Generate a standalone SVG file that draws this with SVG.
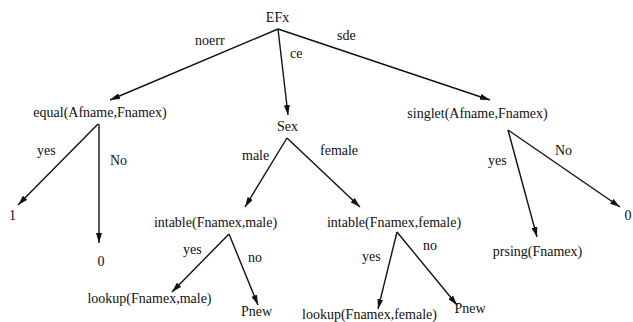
<svg xmlns="http://www.w3.org/2000/svg" width="633" height="322" viewBox="0 0 633 322" font-family="'Liberation Serif', 'Times New Roman', serif">
<defs>
<style>
text{font-family:"Liberation Serif","Times New Roman",serif;font-size:14px;fill:#111;}
.n{text-anchor:middle;}
.e line{stroke:#111;stroke-width:1.4;marker-end:url(#ah);}
</style>
<marker id="ah" markerUnits="userSpaceOnUse" viewBox="0 0 10 6" refX="10" refY="3" markerWidth="10" markerHeight="6" orient="auto">
<path d="M0,0 L10,3 L0,6 z" fill="#111"/>
</marker>
</defs>
<rect width="633" height="322" fill="#fff"/>
<g id="connectors" class="e">
<line x1="278" y1="29" x2="110" y2="100"/>
<line x1="278" y1="29" x2="288" y2="115"/>
<line x1="278" y1="29" x2="490" y2="100"/>
<line x1="98" y1="124" x2="18" y2="205"/>
<line x1="99" y1="124" x2="99" y2="243"/>
<line x1="287" y1="138" x2="245" y2="207"/>
<line x1="287" y1="138" x2="360" y2="207"/>
<line x1="229" y1="234" x2="172" y2="292"/>
<line x1="229" y1="234" x2="258" y2="305"/>
<line x1="397" y1="232" x2="378" y2="309"/>
<line x1="397" y1="232" x2="457" y2="305"/>
<line x1="508" y1="130" x2="537" y2="237"/>
<line x1="508" y1="130" x2="620" y2="207"/>
</g>
<g id="edge-labels">
<text x="195" y="45">noerr</text>
<text x="290" y="58">ce</text>
<text x="337" y="40">sde</text>
<text x="37" y="155">yes</text>
<text x="110" y="165">No</text>
<text x="242" y="160">male</text>
<text x="320" y="155">female</text>
<text x="183" y="254">yes</text>
<text x="248" y="262">no</text>
<text x="362" y="261">yes</text>
<text x="423" y="250">no</text>
<text x="488" y="165">yes</text>
<text x="555" y="155">No</text>
</g>
<g id="n-efx"><text class="n" x="277.5" y="22">EFx</text></g>
<g id="n-equal"><text class="n" x="100" y="117">equal(Afname,Fnamex)</text></g>
<g id="n-sex"><text class="n" x="287.5" y="131">Sex</text></g>
<g id="n-singlet"><text class="n" x="477.5" y="118">singlet(Afname,Fnamex)</text></g>
<g id="n-one"><text class="n" x="12.5" y="220">1</text></g>
<g id="n-zero1"><text class="n" x="101" y="266">0</text></g>
<g id="n-intable-male"><text class="n" x="215.5" y="227">intable(Fnamex,male)</text></g>
<g id="n-intable-female"><text class="n" x="394" y="227">intable(Fnamex,female)</text></g>
<g id="n-lookup-male"><text class="n" x="149.5" y="303">lookup(Fnamex,male)</text></g>
<g id="n-pnew-male"><text class="n" x="256.5" y="316">Pnew</text></g>
<g id="n-lookup-female"><text class="n" x="369.5" y="319">lookup(Fnamex,female)</text></g>
<g id="n-pnew-female"><text class="n" x="470" y="313">Pnew</text></g>
<g id="n-prsing"><text class="n" x="537.5" y="256">prsing(Fnamex)</text></g>
<g id="n-zero2"><text class="n" x="628" y="220">0</text></g>
</svg>
